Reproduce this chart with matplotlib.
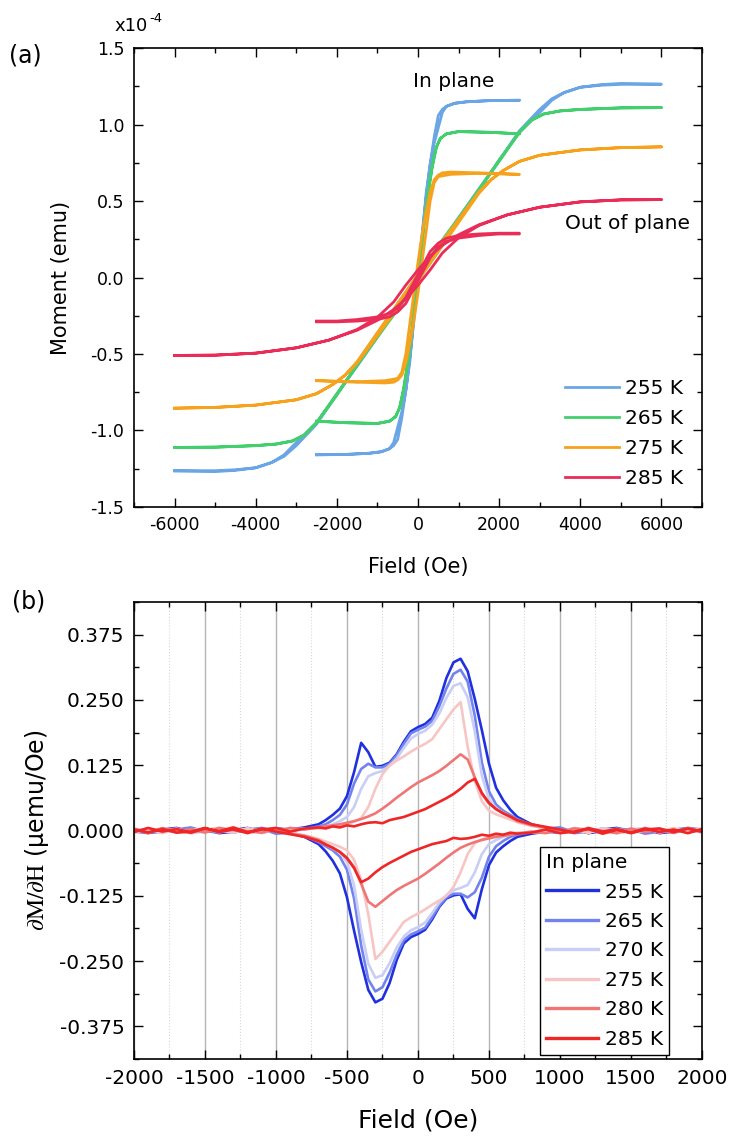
import numpy as np
import matplotlib
matplotlib.use('Agg')
import matplotlib.pyplot as plt
from matplotlib.ticker import MultipleLocator, FormatStrFormatter

plt.rcParams['font.family'] = ['DejaVu Sans']
plt.rcParams['mathtext.fontset'] = 'stix'
plt.rcParams['axes.unicode_minus'] = False

# ---- (a) M(H) loops, moment in 1e-4 emu; only the rising branch is listed,
# the falling branch is its point mirror through the origin
temps_a = ['255 K', '265 K', '275 K', '285 K']
colors_a = ['#6aa6e6', '#43cf6e', '#f7a21c', '#ea2d58']

# in-plane loops (-2500 .. 2500 Oe)
ip_field = {
    '255 K': [-2500, -1800, -1200, -900, -700, -600, -500, -400, -300, -200, -100, 0,
              100, 200, 300, 400, 500, 600, 700, 900, 1200, 1800, 2500],
    '265 K': [-2500, -1800, -1000, -700, -550, -450, -350, -250, -150, -50,
              50, 150, 250, 350, 450, 550, 700, 1000, 1800, 2500],
    '275 K': [-2500, -1500, -800, -600, -500, -400, -300, -200, -100, 0,
              100, 200, 300, 400, 500, 800, 1500, 2500],
    '285 K': [-2500, -2000, -1500, -1000, -700, -500, -300, -100, 0,
              100, 200, 300, 500, 700, 1000, 1500, 2000, 2500],
}
ip_moment = {
    '255 K': [-1.16, -1.158, -1.15, -1.14, -1.12, -1.10, -1.06, -0.92, -0.74, -0.52, -0.28, -0.02,
              0.25, 0.55, 0.74, 0.88, 0.98, 1.08, 1.12, 1.14, 1.15, 1.158, 1.16],
    '265 K': [-0.94, -0.95, -0.955, -0.94, -0.91, -0.85, -0.72, -0.55, -0.35, -0.12,
              0.12, 0.35, 0.56, 0.73, 0.85, 0.91, 0.94, 0.955, 0.95, 0.94],
    '275 K': [-0.675, -0.685, -0.69, -0.685, -0.67, -0.64, -0.56, -0.43, -0.28, -0.10,
              0.10, 0.30, 0.50, 0.62, 0.66, 0.675, 0.682, 0.675],
    '285 K': [-0.285, -0.285, -0.275, -0.258, -0.235, -0.20, -0.13, -0.03, 0.02,
              0.06, 0.12, 0.17, 0.225, 0.257, 0.275, 0.285, 0.29, 0.29],
}

# out-of-plane loops (-6000 .. 6000 Oe)
oop_field = {
    '255 K': [-6000, -5000, -4500, -4000, -3600, -3300, -3000, -2500, -1500, -500, 0,
              500, 1500, 2500, 3000, 3300, 3600, 4000, 4500, 5000, 6000],
    '265 K': [-6000, -5000, -4000, -3500, -3100, -2800, -2500, -2000, -1000, -500, 0,
              500, 1000, 2000, 2500, 2800, 3100, 3500, 4000, 5000, 6000],
    '275 K': [-6000, -5000, -4000, -3000, -2500, -2100, -1800, -1500, -1000, -500, 0,
              500, 1000, 1500, 1800, 2100, 2500, 3000, 4000, 5000, 6000],
    '285 K': [-6000, -5000, -4000, -3000, -2200, -1500, -1000, -600, -300, 0,
              300, 600, 1000, 1500, 2200, 3000, 4000, 5000, 6000],
}
oop_moment = {
    '255 K': [-1.265, -1.27, -1.262, -1.245, -1.21, -1.16, -1.08, -0.95, -0.58, -0.20, -0.02,
              0.18, 0.57, 0.96, 1.10, 1.17, 1.21, 1.245, 1.258, 1.264, 1.265],
    '265 K': [-1.112, -1.11, -1.10, -1.09, -1.07, -1.03, -0.95, -0.76, -0.39, -0.21, -0.02,
              0.17, 0.37, 0.77, 0.95, 1.03, 1.07, 1.09, 1.10, 1.11, 1.112],
    '275 K': [-0.855, -0.85, -0.835, -0.80, -0.76, -0.70, -0.64, -0.56, -0.38, -0.20, -0.02,
              0.17, 0.36, 0.55, 0.64, 0.70, 0.76, 0.80, 0.835, 0.85, 0.855],
    '285 K': [-0.51, -0.508, -0.495, -0.46, -0.41, -0.345, -0.28, -0.21, -0.14, -0.05,
              0.05, 0.16, 0.26, 0.34, 0.41, 0.46, 0.495, 0.508, 0.51],
}

# ---- (b) dM/dH in uemu/Oe, rising-field branch
field_b = [-2000, -1900, -1800, -1700, -1600, -1500, -1400, -1300, -1200, -1100, -1000, -900, -800,
           -700, -650, -600, -550, -500, -450, -400, -350, -300, -250, -200, -150, -100, -50,
           0, 50, 100, 150, 200, 250, 300, 350, 400, 450, 500, 550, 600, 650,
           700, 800, 900, 1000, 1100, 1200, 1300, 1400, 1500, 1600, 1700, 1800, 1900, 2000]
temps_b = ['255 K', '265 K', '270 K', '275 K', '280 K', '285 K']
colors_b = ['#1f30de', '#7383ee', '#c9cef6', '#f8c5c5', '#f07676', '#f02626']
dmdh = {
    '255 K': [0.003, -0.004, 0.002, 0.005, -0.003, 0.004, -0.002, 0.001, 0.005, -0.003, 0.004, 0.002, 0.006,
              0.012, 0.020, 0.030, 0.042, 0.066, 0.112, 0.168, 0.150, 0.122, 0.124, 0.130, 0.146, 0.170, 0.190,
              0.198, 0.204, 0.216, 0.248, 0.292, 0.322, 0.329, 0.305, 0.252, 0.192, 0.128, 0.082, 0.058, 0.040,
              0.026, 0.012, 0.005, -0.002, 0.004, -0.003, 0.002, 0.005, -0.002, 0.003, -0.004, 0.002, 0.004, -0.001],
    '265 K': [-0.002, 0.004, -0.003, 0.002, 0.006, -0.002, 0.003, -0.004, 0.002, 0.005, -0.001, 0.004, 0.003,
              0.008, 0.012, 0.020, 0.030, 0.050, 0.090, 0.118, 0.128, 0.121, 0.121, 0.128, 0.144, 0.166, 0.186,
              0.193, 0.199, 0.210, 0.238, 0.272, 0.300, 0.308, 0.285, 0.220, 0.130, 0.075, 0.050, 0.038, 0.030,
              0.022, 0.010, 0.004, 0.006, -0.003, 0.003, -0.002, 0.004, 0.001, -0.004, 0.003, -0.002, 0.005, 0.002],
    '270 K': [0.004, -0.002, 0.005, -0.004, 0.002, 0.003, -0.003, 0.005, -0.002, 0.001, 0.004, -0.002, 0.003,
              0.005, 0.008, 0.012, 0.018, 0.026, 0.045, 0.080, 0.104, 0.110, 0.114, 0.124, 0.138, 0.158, 0.176,
              0.185, 0.191, 0.203, 0.224, 0.254, 0.277, 0.282, 0.255, 0.190, 0.105, 0.060, 0.042, 0.034, 0.027,
              0.020, 0.011, 0.003, -0.003, 0.005, -0.002, 0.004, -0.004, 0.002, 0.005, -0.003, 0.003, -0.002, 0.004],
    '275 K': [-0.004, 0.003, -0.001, 0.004, -0.005, 0.002, 0.005, -0.003, 0.004, -0.002, 0.003, 0.001, 0.004,
              0.004, 0.006, 0.008, 0.010, 0.013, 0.017, 0.024, 0.045, 0.080, 0.108, 0.125, 0.134, 0.142, 0.151,
              0.159, 0.166, 0.175, 0.194, 0.213, 0.232, 0.246, 0.160, 0.095, 0.056, 0.038, 0.031, 0.026, 0.021,
              0.016, 0.009, 0.005, -0.002, 0.004, -0.004, 0.003, 0.001, -0.003, 0.004, -0.002, 0.005, -0.003, 0.002],
    '280 K': [0.002, -0.005, 0.004, -0.002, 0.003, -0.004, 0.005, 0.001, -0.003, 0.004, -0.002, 0.005, 0.002,
              0.006, 0.008, 0.010, 0.012, 0.015, 0.018, 0.022, 0.027, 0.033, 0.042, 0.052, 0.063, 0.073, 0.083,
              0.092, 0.099, 0.106, 0.114, 0.124, 0.135, 0.146, 0.136, 0.102, 0.070, 0.052, 0.041, 0.033, 0.026,
              0.018, 0.010, 0.006, -0.003, 0.004, 0.002, -0.004, 0.003, -0.002, 0.004, 0.001, -0.004, 0.003, -0.003],
    '285 K': [-0.003, 0.005, -0.002, 0.003, -0.004, 0.004, -0.001, 0.006, -0.003, 0.002, 0.005, -0.002, 0.004,
              0.006, 0.004, 0.008, 0.006, 0.010, 0.008, 0.012, 0.015, 0.016, 0.014, 0.020, 0.023, 0.026, 0.031,
              0.036, 0.041, 0.048, 0.055, 0.062, 0.070, 0.080, 0.092, 0.099, 0.072, 0.053, 0.041, 0.033, 0.027,
              0.020, 0.012, 0.007, 0.002, -0.004, 0.005, -0.002, 0.003, -0.005, 0.002, 0.004, -0.003, 0.004, -0.002],
}


def closed_loop(h, y):
    # rising branch followed by the mirrored falling branch
    h = np.asarray(h, dtype=float)
    y = np.asarray(y, dtype=float)
    return np.concatenate([h, -h]), np.concatenate([y, -y])


def style_axes(ax):
    for s in ax.spines.values():
        s.set_linewidth(1.2)
    ax.tick_params(which='both', direction='in', top=True, right=True, width=1.0)
    ax.tick_params(which='major', length=6.5)
    ax.tick_params(which='minor', length=3.5)


fig = plt.figure(figsize=(7.31, 11.39), dpi=100)
ax1 = fig.add_axes([0.1833, 0.5551, 0.7770, 0.4025])
ax2 = fig.add_axes([0.1833, 0.0702, 0.7770, 0.4012])

# (a)
for t, c in zip(temps_a, colors_a):
    hx, my = closed_loop(oop_field[t], oop_moment[t])
    ax1.plot(hx, my, color=c, lw=2.0, solid_joinstyle='round')
    hx, my = closed_loop(ip_field[t], ip_moment[t])
    ax1.plot(hx, my, color=c, lw=2.0, solid_joinstyle='round', label=t)

ax1.set_xlim(-7000, 7000)
ax1.set_ylim(-1.5, 1.5)
ax1.xaxis.set_major_locator(MultipleLocator(2000))
ax1.xaxis.set_minor_locator(MultipleLocator(1000))
ax1.yaxis.set_major_locator(MultipleLocator(0.5))
ax1.yaxis.set_minor_locator(MultipleLocator(0.25))
ax1.yaxis.set_major_formatter(FormatStrFormatter('%.1f'))
style_axes(ax1)
ax1.tick_params(labelsize=12.5, pad=7)
ax1.set_xlabel('Field (Oe)', fontsize=15, labelpad=16)
ax1.set_ylabel('Moment (emu)', fontsize=15, labelpad=14)
ax1.text(0.563, 0.9265, 'In plane', transform=ax1.transAxes, fontsize=14.5,
         ha='center', va='center')
ax1.text(0.979, 0.617, 'Out of plane', transform=ax1.transAxes, fontsize=14.5,
         ha='right', va='center')
ax1.legend(loc='lower right', bbox_to_anchor=(0.967, 0.04), frameon=False,
           fontsize=14.5, handlelength=2.7, handletextpad=0.3, labelspacing=0.55,
           borderpad=0, borderaxespad=0)
# axis multiplier written out as plain text with a raised exponent
fig.text(114 / 731, 1 - 31 / 1139, 'x10', fontsize=13, ha='left', va='baseline')
fig.text(149 / 731, 1 - 22 / 1139, '-4', fontsize=9.5, ha='left', va='baseline')

# (b)
for t, c in zip(temps_b, colors_b):
    hx, dy = closed_loop(field_b, dmdh[t])
    ax2.plot(hx, dy, color=c, lw=1.9, label=t)

ax2.set_xlim(-2000, 2000)
ax2.set_ylim(-0.4375, 0.4375)
ax2.xaxis.set_major_locator(MultipleLocator(500))
ax2.xaxis.set_minor_locator(MultipleLocator(250))
ax2.yaxis.set_major_locator(MultipleLocator(0.125))
ax2.yaxis.set_minor_locator(MultipleLocator(0.0625))
ax2.yaxis.set_major_formatter(FormatStrFormatter('%.3f'))
ax2.grid(True, axis='x', which='major', color='#b4b4b4', lw=1.0)
ax2.grid(True, axis='x', which='minor', color='#d8d8d8', lw=0.8, ls=':')
ax2.set_axisbelow(True)
style_axes(ax2)
ax2.tick_params(labelsize=14.5, pad=7)
ax2.set_xlabel('Field (Oe)', fontsize=18, labelpad=15)
ax2.set_ylabel(r'$\partial\mathrm{M}/\partial\mathrm{H}$ (μemu/Oe)', fontsize=17, labelpad=6)
leg = ax2.legend(loc='lower right', bbox_to_anchor=(0.9424, 0.009), title='In plane',
                 alignment='left', fontsize=14.5, title_fontsize=14.5,
                 handlelength=2.6, handletextpad=0.35, labelspacing=0.52,
                 borderpad=0.3, borderaxespad=0, fancybox=False, framealpha=1)
leg.get_frame().set_edgecolor('black')
leg.get_frame().set_linewidth(1.0)
for ln in leg.get_lines():
    ln.set_linewidth(2.4)

fig.text(9 / 731, 1 - 56 / 1139, '(a)', fontsize=17, ha='left', va='center')
fig.text(12 / 731, 1 - 601 / 1139, '(b)', fontsize=17, ha='left', va='center')

fig.savefig('out.png', dpi=100)
